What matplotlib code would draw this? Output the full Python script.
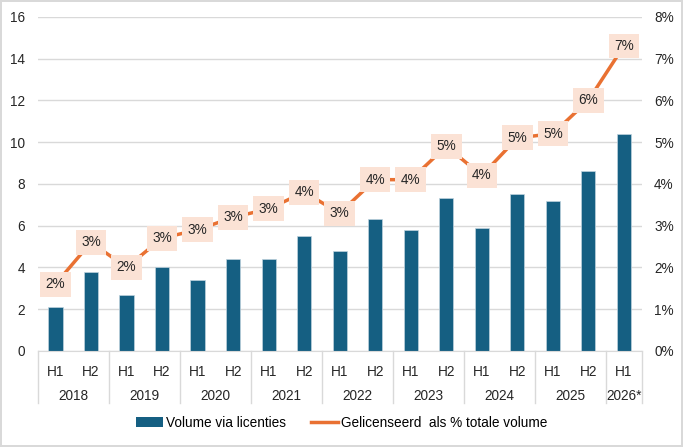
import numpy as np
import matplotlib
matplotlib.use("Agg")
import matplotlib.pyplot as plt
from matplotlib.lines import Line2D
from matplotlib.patches import Patch

# values
years = ["2018", "2019", "2020", "2021", "2022", "2023", "2024", "2025", "2026*"]
halves = ["H1", "H2"] * 8 + ["H1"]
volume = [2.1, 3.8, 2.7, 4.0, 3.4, 4.4, 4.4, 5.5, 4.8, 6.3,
          5.8, 7.3, 5.9, 7.5, 7.2, 8.6, 10.4]
pct = [1.6, 2.6, 2.0, 2.7, 2.9, 3.2, 3.4, 3.8, 3.3, 4.1,
       4.1, 4.9, 4.2, 5.1, 5.2, 6.0, 7.3]

blue = "#155F82"
orange = "#E97132"
peach = "#FBE2D5"
grid = "#D9D9D9"
txt = "#262626"

plt.rcParams["font.family"] = ["Liberation Sans", "DejaVu Sans"]
plt.rcParams["font.size"] = 9.8

fig = plt.figure(figsize=(6.83, 4.47), dpi=100)
fig.patch.set_edgecolor(grid)
fig.patch.set_linewidth(1.5)
ax = fig.add_axes([0.0552, 0.2148, 0.8843, 0.7478])

x = np.arange(len(volume))
ax.bar(x, volume, width=0.4, color=blue, edgecolor="#BFD3DE", linewidth=0.5, zorder=2)
ax.set_xlim(-0.5, len(volume) - 0.5)
ax.set_ylim(0, 16)
ax.set_yticks(range(0, 17, 2))
ax.grid(axis="y", color=grid, linewidth=1, zorder=0)
for s in ["top", "right", "left"]:
    ax.spines[s].set_visible(False)
ax.spines["bottom"].set_color(grid)
ax.tick_params(axis="y", length=0, pad=9, colors=txt)
ax.set_xticks(x)
ax.set_xticklabels(halves)
ax.tick_params(axis="x", length=0, pad=10, colors=txt)

# year labels and separators under the axis
trans = ax.get_xaxis_transform()
for i, yr in enumerate(years):
    cx = 2 * i + 0.5 if i < 8 else 16
    ax.text(cx, -0.135, yr, transform=trans, ha="center", va="center", color=txt)
for b in list(np.arange(-0.5, 16, 2)) + [16.5]:
    ax.add_line(Line2D([b, b], [0, -0.156], transform=trans, color=grid,
                       linewidth=1, clip_on=False))

ax2 = ax.twinx()
ax2.plot(x, pct, color=orange, linewidth=2.5, zorder=3)
ax2.set_ylim(0, 8)
ax2.set_yticks(range(0, 9))
ax2.set_yticklabels([f"{v}%" for v in range(0, 9)])
ax2.tick_params(axis="y", length=0, pad=9, colors=txt)
for s in ax2.spines.values():
    s.set_visible(False)
for xi, v in zip(x, pct):
    ax2.text(xi, v, f"{round(v)}%", ha="center", va="center", color=txt, zorder=4,
             bbox=dict(boxstyle="square,pad=0.4", facecolor=peach, edgecolor="none"))

handles = [Patch(facecolor=blue, label="Volume via licenties"),
           Line2D([], [], color=orange, linewidth=2.5, label="Gelicenseerd  als % totale volume")]
fig.legend(handles=handles, loc="center", bbox_to_anchor=(0.5, 0.054), ncol=2,
           frameon=False, handlelength=2.0, handletextpad=0.2, columnspacing=1.8,
           fontsize=9.8)

fig.savefig("out.png", dpi=100, edgecolor=fig.get_edgecolor())
